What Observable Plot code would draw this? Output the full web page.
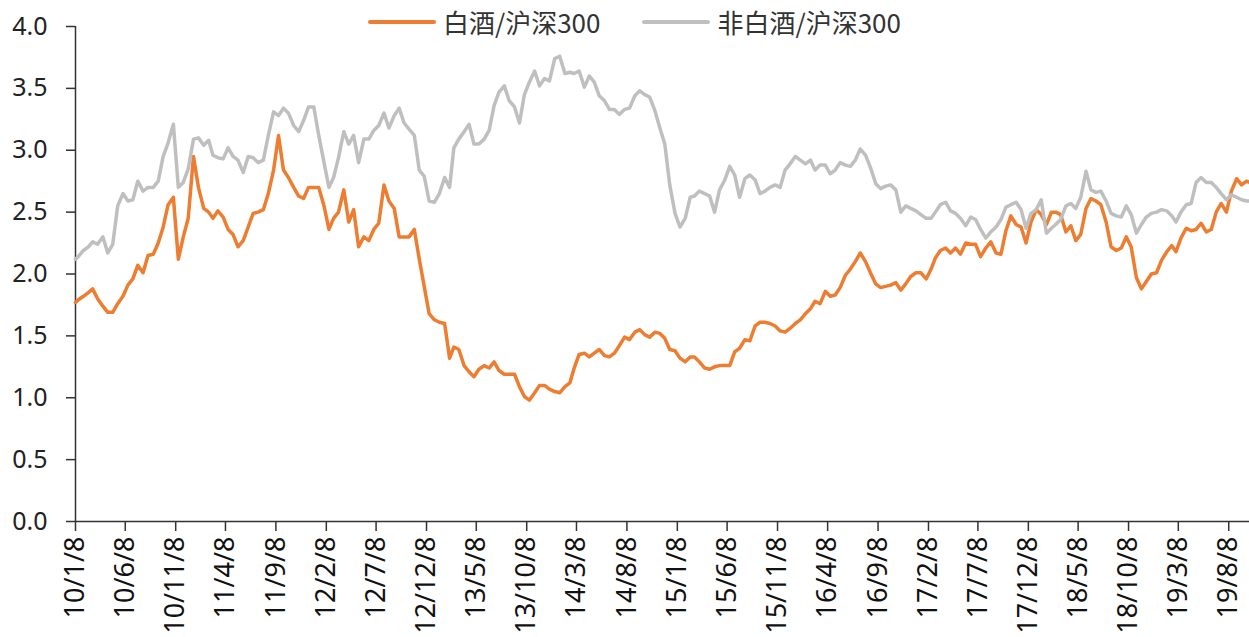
<!DOCTYPE html>
<html><head><meta charset="utf-8">
<script src="https://cdn.jsdelivr.net/npm/d3@7"></script>
<script src="https://cdn.jsdelivr.net/npm/@observablehq/plot@0.6"></script>
<style>
body{margin:0;background:#fff;font-family:"Noto Sans CJK SC","Noto Sans",sans-serif;}
#wrap{position:relative;width:1249px;height:637px;overflow:hidden;background:#fff}
#legend{position:absolute;top:3px;left:368px;display:flex;align-items:center;font-size:26px;color:#333;white-space:nowrap;z-index:2}
#legend .item{display:flex;align-items:center;margin-right:42px}
#legend .sw{display:inline-block;width:68px;height:4px;margin-right:7px;border-radius:2px}
</style></head><body>
<div id="wrap"><div id="legend"></div><div id="chart"></div></div>
<script>
const dates = [
"2010-01-08","2010-01-16","2010-02-01","2010-02-16","2010-03-01","2010-03-16","2010-04-01","2010-04-16","2010-05-01","2010-05-16","2010-06-01","2010-06-16","2010-07-01","2010-07-16","2010-08-01","2010-08-16","2010-09-01","2010-09-16","2010-10-01","2010-10-16","2010-11-01","2010-11-16","2010-12-01","2010-12-16",
"2011-01-01","2011-01-16","2011-02-01","2011-02-16","2011-03-01","2011-03-16","2011-04-01","2011-04-16","2011-05-01","2011-05-16","2011-06-01","2011-06-16","2011-07-01","2011-07-16","2011-08-01","2011-08-16","2011-09-01","2011-09-16","2011-10-01","2011-10-16","2011-11-01","2011-11-16","2011-12-01","2011-12-16",
"2012-01-01","2012-01-16","2012-02-01","2012-02-16","2012-03-01","2012-03-16","2012-04-01","2012-04-16","2012-05-01","2012-05-16","2012-06-01","2012-06-16","2012-07-01","2012-07-16","2012-08-01","2012-08-16","2012-09-01","2012-09-16","2012-10-01","2012-10-16","2012-11-01","2012-11-16","2012-12-01","2012-12-16",
"2013-01-01","2013-01-16","2013-02-01","2013-02-16","2013-03-01","2013-03-16","2013-04-01","2013-04-16","2013-05-01","2013-05-16","2013-06-01","2013-06-16","2013-07-01","2013-07-16","2013-08-01","2013-08-16","2013-09-01","2013-09-16","2013-10-01","2013-10-16","2013-11-01","2013-11-16","2013-12-01","2013-12-16",
"2014-01-01","2014-01-16","2014-02-01","2014-02-16","2014-03-01","2014-03-16","2014-04-01","2014-04-16","2014-05-01","2014-05-16","2014-06-01","2014-06-16","2014-07-01","2014-07-16","2014-08-01","2014-08-16","2014-09-01","2014-09-16","2014-10-01","2014-10-16","2014-11-01","2014-11-16","2014-12-01","2014-12-16",
"2015-01-01","2015-01-16","2015-02-01","2015-02-16","2015-03-01","2015-03-16","2015-04-01","2015-04-16","2015-05-01","2015-05-16","2015-06-01","2015-06-16","2015-07-01","2015-07-16","2015-08-01","2015-08-16","2015-09-01","2015-09-16","2015-10-01","2015-10-16","2015-11-01","2015-11-16","2015-12-01","2015-12-16",
"2016-01-01","2016-01-16","2016-02-01","2016-02-16","2016-03-01","2016-03-16","2016-04-01","2016-04-16","2016-05-01","2016-05-16","2016-06-01","2016-06-16","2016-07-01","2016-07-16","2016-08-01","2016-08-16","2016-09-01","2016-09-16","2016-10-01","2016-10-16","2016-11-01","2016-11-16","2016-12-01","2016-12-16",
"2017-01-01","2017-01-16","2017-02-01","2017-02-16","2017-03-01","2017-03-16","2017-04-01","2017-04-16","2017-05-01","2017-05-16","2017-06-01","2017-06-16","2017-07-01","2017-07-16","2017-08-01","2017-08-16","2017-09-01","2017-09-16","2017-10-01","2017-10-16","2017-11-01","2017-11-16","2017-12-01","2017-12-16",
"2018-01-01","2018-01-16","2018-02-01","2018-02-16","2018-03-01","2018-03-16","2018-04-01","2018-04-16","2018-05-01","2018-05-16","2018-06-01","2018-06-16","2018-07-01","2018-07-16","2018-08-01","2018-08-16","2018-09-01","2018-09-16","2018-10-01","2018-10-16","2018-11-01","2018-11-16","2018-12-01","2018-12-16",
"2019-01-01","2019-01-16","2019-02-01","2019-02-16","2019-03-01","2019-03-16","2019-04-01","2019-04-16","2019-05-01","2019-05-16","2019-06-01","2019-06-16","2019-07-01","2019-07-16","2019-08-01","2019-08-16","2019-09-01","2019-09-16","2019-10-01","2019-10-10"
];
// 白酒/沪深300
const baijiu = [
1.77,1.79,1.82,1.85,1.88,1.80,1.74,1.69,1.69,1.76,1.82,1.91,1.96,2.07,2.01,2.15,2.16,2.25,2.38,2.56,2.62,2.12,2.30,2.45,
2.95,2.70,2.53,2.50,2.45,2.51,2.46,2.36,2.32,2.22,2.27,2.38,2.49,2.50,2.52,2.65,2.84,3.12,2.84,2.78,2.70,2.63,2.61,2.70,
2.70,2.70,2.55,2.36,2.45,2.50,2.68,2.42,2.52,2.22,2.30,2.27,2.36,2.41,2.72,2.59,2.53,2.30,2.30,2.30,2.36,2.12,1.90,1.68,
1.63,1.61,1.60,1.32,1.41,1.39,1.26,1.21,1.17,1.23,1.26,1.24,1.29,1.22,1.19,1.19,1.19,1.09,1.01,0.98,1.04,1.10,1.10,1.07,
1.05,1.04,1.09,1.12,1.24,1.35,1.36,1.33,1.36,1.39,1.34,1.33,1.36,1.42,1.49,1.47,1.53,1.55,1.51,1.49,1.53,1.52,1.48,1.39,
1.38,1.32,1.29,1.33,1.33,1.29,1.24,1.23,1.25,1.26,1.26,1.26,1.37,1.40,1.47,1.46,1.58,1.61,1.61,1.60,1.58,1.54,1.53,1.56,
1.60,1.63,1.68,1.72,1.78,1.76,1.86,1.82,1.83,1.89,1.99,2.04,2.10,2.17,2.10,2.01,1.92,1.89,1.90,1.91,1.93,1.87,1.92,1.98,
2.01,2.01,1.96,2.04,2.13,2.19,2.21,2.17,2.21,2.16,2.25,2.24,2.24,2.14,2.21,2.26,2.17,2.16,2.35,2.47,2.40,2.38,2.25,2.42,
2.52,2.48,2.40,2.50,2.50,2.48,2.34,2.39,2.27,2.32,2.53,2.61,2.59,2.56,2.42,2.22,2.19,2.21,2.30,2.22,1.97,1.88,1.94,2.00,
2.01,2.11,2.18,2.23,2.18,2.29,2.37,2.35,2.36,2.41,2.34,2.36,2.50,2.57,2.50,2.67,2.77,2.72,2.75,2.74
];
// 非白酒/沪深300
const feibaijiu = [
2.12,2.14,2.19,2.22,2.26,2.24,2.30,2.17,2.24,2.55,2.65,2.59,2.60,2.75,2.67,2.70,2.70,2.75,2.95,3.06,3.21,2.70,2.74,2.85,
3.09,3.10,3.04,3.08,2.96,2.94,2.93,3.02,2.95,2.92,2.82,2.95,2.94,2.90,2.92,3.12,3.31,3.28,3.34,3.30,3.20,3.15,3.24,3.35,
3.35,3.12,2.90,2.70,2.78,2.94,3.15,3.05,3.12,2.90,3.09,3.09,3.16,3.20,3.30,3.18,3.28,3.34,3.22,3.17,3.12,2.84,2.79,2.59,
2.58,2.65,2.78,2.70,3.02,3.09,3.15,3.21,3.05,3.05,3.09,3.16,3.36,3.47,3.52,3.40,3.35,3.22,3.45,3.55,3.64,3.52,3.58,3.56,
3.74,3.76,3.62,3.63,3.62,3.64,3.51,3.60,3.55,3.44,3.40,3.33,3.33,3.29,3.33,3.34,3.44,3.48,3.45,3.43,3.32,3.18,3.05,2.72,
2.49,2.38,2.45,2.62,2.63,2.67,2.65,2.63,2.50,2.68,2.76,2.87,2.80,2.62,2.77,2.80,2.76,2.65,2.67,2.70,2.72,2.70,2.84,2.89,
2.95,2.92,2.89,2.92,2.84,2.88,2.88,2.81,2.84,2.90,2.88,2.87,2.92,3.01,2.96,2.86,2.73,2.69,2.71,2.72,2.68,2.50,2.55,2.53,
2.51,2.48,2.45,2.45,2.50,2.56,2.58,2.51,2.49,2.45,2.39,2.46,2.44,2.36,2.29,2.34,2.38,2.44,2.54,2.56,2.58,2.52,2.37,2.49,
2.52,2.60,2.33,2.37,2.40,2.44,2.55,2.57,2.53,2.62,2.83,2.68,2.66,2.67,2.59,2.49,2.47,2.46,2.55,2.48,2.33,2.40,2.46,2.49,
2.50,2.52,2.51,2.47,2.42,2.50,2.56,2.57,2.74,2.78,2.74,2.74,2.70,2.65,2.60,2.64,2.62,2.60,2.59,2.59
];
const tickDates = ["2010-01-08","2010-06-08","2010-11-08","2011-04-08","2011-09-08","2012-02-08","2012-07-08","2012-12-08","2013-05-08","2013-10-08","2014-03-08","2014-08-08","2015-01-08","2015-06-08","2015-11-08","2016-04-08","2016-09-08","2017-02-08","2017-07-08","2017-12-08","2018-05-08","2018-10-08","2019-03-08","2019-08-08"];
const tickLabels = ["10/1/8","10/6/8","10/11/8","11/4/8","11/9/8","12/2/8","12/7/8","12/12/8","13/5/8","13/10/8","14/3/8","14/8/8","15/1/8","15/6/8","15/11/8","16/4/8","16/9/8","17/2/8","17/7/8","17/12/8","18/5/8","18/10/8","19/3/8","19/8/8"];
const yTicks = [0,0.5,1.0,1.5,2.0,2.5,3.0,3.5,4.0];
const seriesNames = ["白酒/沪深300","非白酒/沪深300"];
const seriesColors = ["#ED7D31","#BFBFBF"];
const xStart = "2010-01-08", xEnd = "2019-10-10";

const parse = d3.utcParse("%Y-%m-%d");
const rows = dates.map((d, i) => ({date: parse(d), a: baijiu[i], b: feibaijiu[i]}));
const tickMap = new Map(tickDates.map((d, i) => [+parse(d), tickLabels[i]]));
const x0 = parse(xStart), x1 = parse(xEnd);
const font = '"Noto Sans","Noto Sans CJK SC",sans-serif';

const chart = Plot.plot({
  width: 1249, height: 637,
  marginLeft: 75, marginRight: 0, marginTop: 26, marginBottom: 116,
  style: {fontFamily: font, background: "transparent", overflow: "visible"},
  x: {type: "utc", domain: [x0, x1]},
  y: {domain: [0, 4]},
  marks: [
    Plot.axisY({ticks: yTicks, tickFormat: d => d.toFixed(1), tickSize: 9, tickPadding: 19, label: null, stroke: "#333", strokeWidth: 1.5, fill: "#222", fontSize: 25}),
    Plot.axisX({ticks: tickDates.map(parse), tickFormat: d => tickMap.get(+d), tickRotate: -90, tickSize: 10, tickPadding: 5, label: null, stroke: "#333", strokeWidth: 1.5, fill: "#111", fontSize: 27}),
    Plot.ruleX([x0], {y1: 0, y2: 4, stroke: "#333", strokeWidth: 1.5}),
    Plot.ruleY([0], {stroke: "#333", strokeWidth: 1.5}),
    Plot.line(rows, {x: "date", y: "a", stroke: seriesColors[0], strokeWidth: 3.5, curve: "linear"}),
    Plot.line(rows, {x: "date", y: "b", stroke: seriesColors[1], strokeWidth: 3.5, curve: "linear"})
  ]
});
document.getElementById("chart").appendChild(chart);

const legend = document.getElementById("legend");
seriesNames.forEach((n, i) => {
  const it = document.createElement("div");
  it.className = "item";
  const sw = document.createElement("span");
  sw.className = "sw";
  sw.style.background = seriesColors[i];
  const t = document.createElement("span");
  t.textContent = n;
  it.appendChild(sw); it.appendChild(t);
  legend.appendChild(it);
});
</script>
</body></html>
